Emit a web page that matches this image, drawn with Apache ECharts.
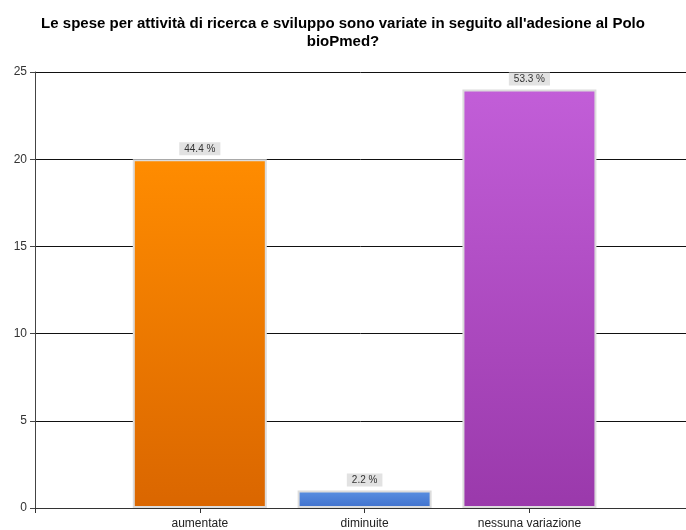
<!DOCTYPE html>
<html>
<head>
<meta charset="utf-8">
<script src="https://cdn.jsdelivr.net/npm/echarts@6/dist/echarts.min.js"></script>
<style>
  html, body { margin: 0; padding: 0; background: #fff; }
  #chart { width: 686px; height: 530px; }
</style>
</head>
<body>
<div id="chart"></div>
<script>
  // dati del grafico
  const categories = ['aumentate', 'diminuite', 'nessuna variazione']
  const counts = [20, 1, 24]
  const percentLabels = ['44.4 %', '2.2 %', '53.3 %']
  const yTicks = [0, 5, 10, 15, 20, 25]

  // colori delle barre (alto, basso)
  const barColors = [
    ['#ff8c00', '#da6600'],
    ['#5a90e2', '#3f70cc'],
    ['#c25ed8', '#9a39ab']
  ]

  const chart = echarts.init(document.getElementById('chart'))

  chart.setOption({
    animation: false,
    title: {
      text: "Le spese per attività di ricerca e sviluppo sono variate in seguito all'adesione al Polo\nbioPmed?",
      left: 'center',
      top: 10,
      textStyle: {
        fontFamily: 'Liberation Sans, Arial',
        fontSize: 15,
        fontWeight: 'bold',
        color: '#000',
        lineHeight: 18
      }
    },
    grid: {
      left: 35,
      right: 0,
      top: 72,
      bottom: 22
    },
    xAxis: {
      type: 'value',
      min: 0,
      // l'asse prosegue oltre il bordo destro
      max: 3.95,
      interval: 1,
      axisLine: { show: true, lineStyle: { color: '#333' } },
      axisTick: {
        show: true,
        length: 5,
        customValues: [0, 1, 2, 3],
        lineStyle: { color: '#333' }
      },
      splitLine: { show: false },
      axisLabel: {
        fontFamily: 'Liberation Sans, Arial',
        fontSize: 12,
        color: '#222',
        margin: 10,
        customValues: [1, 2, 3],
        formatter: v => categories[v - 1] || ''
      }
    },
    yAxis: {
      type: 'value',
      min: yTicks[0],
      max: yTicks[yTicks.length - 1],
      interval: 5,
      axisLine: { show: true, lineStyle: { color: '#444' } },
      axisTick: { show: true, length: 5, lineStyle: { color: '#444' } },
      splitLine: { show: true, lineStyle: { color: '#111', width: 1 } },
      axisLabel: {
        fontFamily: 'Liberation Sans, Arial',
        fontSize: 12,
        color: '#333',
        margin: 8
      }
    },
    series: [
      {
        type: 'bar',
        barWidth: 134,
        data: counts.map((v, i) => ({
          value: [i + 1, v],
          itemStyle: {
            color: new echarts.graphic.LinearGradient(0, 0, 0, 1, [
              { offset: 0, color: barColors[i][0] },
              { offset: 1, color: barColors[i][1] }
            ]),
            borderColor: '#dcdcdc',
            borderWidth: 2
          },
          label: {
            show: true,
            position: 'top',
            distance: 4,
            formatter: percentLabels[i],
            fontFamily: 'Liberation Sans, Arial',
            fontSize: 10,
            color: '#333',
            backgroundColor: '#e2e2e2',
            padding: [2, 5, 1, 5]
          }
        }))
      }
    ]
  })
</script>
</body>
</html>
